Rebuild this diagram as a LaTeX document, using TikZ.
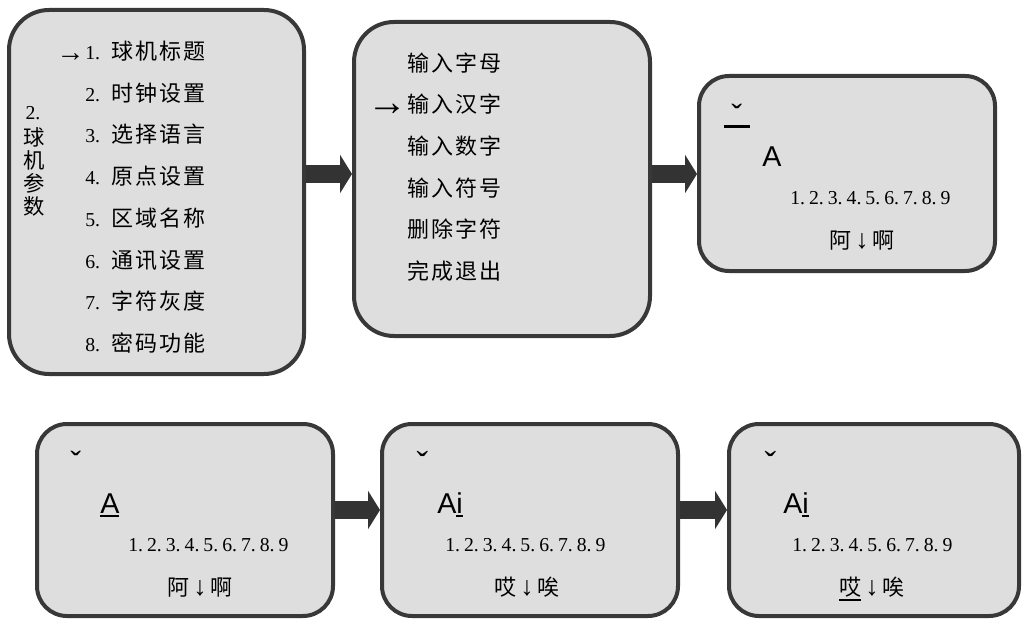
\documentclass[tikz,border=0pt]{standalone}
\usepackage{fontspec}
\setmainfont{Liberation Serif}
\newfontfamily\cjk[LetterSpace=10]{Noto Sans CJK SC}
\newfontfamily\cjkn{Noto Sans CJK SC}
\newfontfamily\lsans{Liberation Sans}
\usetikzlibrary{arrows.meta}
\definecolor{boxfill}{HTML}{DEDEDE}
\definecolor{boxline}{HTML}{383838}
\definecolor{arrowc}{HTML}{333333}
\newcommand\dgt{\fontsize{14.8pt}{16pt}\selectfont}
\newcommand\myul[3]{\leavevmode\setbox0=\hbox{#3}\rlap{\rule[#1]{\wd0}{#2}}\box0}
\newcommand\numrow{1.\hspace{3pt}2.\hspace{3pt}3.\hspace{3pt}4.\hspace{3pt}5.\hspace{3pt}6.\hspace{3pt}7.\hspace{3pt}8.\hspace{3pt}9}
\newcommand\darr{\hspace{3pt}{\rmfamily\fontsize{20pt}{20pt}\selectfont\raisebox{-0.5pt}{↓}}\hspace{3pt}}
\begin{document}
\begin{tikzpicture}[x=0.75pt,y=-0.75pt,
  panel/.style={draw=boxline, fill=boxfill, line width=3pt, inner sep=0pt, rounded corners=22.5pt},
  bigpanel/.style={panel, rounded corners=30pt},
  sz/.style 2 args={minimum width=#1*0.75pt, minimum height=#2*0.75pt},
  blockarrow/.style={draw=arrowc, line width=13.5pt, -{Triangle[length=9pt,width=28.5pt]}},
  menu/.style={anchor=base west, inner sep=0pt, font=\fontsize{16.5pt}{20pt}\selectfont},
  lbl/.style={anchor=center, inner sep=0pt, font=\fontsize{16pt}{20pt}\selectfont\cjkn},
  bigtxt/.style={anchor=base west, inner sep=0pt, font=\fontsize{21.5pt}{24pt}\selectfont\lsans},
  nums/.style={anchor=base west, inner sep=0pt, font=\dgt},
  hz/.style={anchor=base west, inner sep=0pt, font=\fontsize{16.5pt}{20pt}\selectfont\cjkn},
  tone/.style={anchor=north, inner sep=0pt, font=\fontsize{24pt}{28pt}\selectfont\lsans},
  toneb/.style={anchor=north, inner sep=0pt, font=\fontsize{26pt}{28pt}\selectfont\rmfamily},
]
\useasboundingbox (0,0) rectangle (1023,620);
\clip (0,0) rectangle (1023,620);

% panels
\node[bigpanel, sz={295}{364}] (b1) at (156.5,192) {};
\node[bigpanel, sz={296}{314}] (b2) at (502,179) {};
\node[panel, sz={296}{195}] (b3) at (847,173.5) {};
\node[panel, sz={296}{192}] (b4) at (185,520) {};
\node[panel, sz={296}{192}] (b5) at (530,520) {};
\node[panel, sz={290}{192}] (b6) at (874,520) {};

% arrows
\coordinate (ya) at (0,174);
\coordinate (yb) at (0,510);
\draw[blockarrow] (b1.east |- ya) -- (b2.west |- ya);
\draw[blockarrow] (b2.east |- ya) -- (b3.west |- ya);
\draw[blockarrow] (b4.east |- yb) -- (b5.west |- yb);
\draw[blockarrow] (b5.east |- yb) -- (b6.west |- yb);

% panel 1
\node[lbl, font=\dgt] (v0) at (33,113) {2.};
\node[lbl] (v1) at (34,137) {球};
\node[lbl] (v2) at (34,160) {机};
\node[lbl] (v3) at (34,183) {参};
\node[lbl] (v4) at (34,206) {数};
\node[menu] (m1) at (85,59.7) {\llap{{\fontsize{21pt}{21pt}\selectfont\raisebox{-1pt}{→}}\hspace{0.5pt}}{\dgt 1.} \hspace{3pt}{\cjk 球机标题}};
\node[menu] (m2) at (85,101.3) {{\dgt 2.} \hspace{3pt}{\cjk 时钟设置}};
\node[menu] (m3) at (85,143) {{\dgt 3.} \hspace{3pt}{\cjk 选择语言}};
\node[menu] (m4) at (85,184.7) {{\dgt 4.} \hspace{3pt}{\cjk 原点设置}};
\node[menu] (m5) at (85,226.3) {{\dgt 5.} \hspace{3pt}{\cjk 区域名称}};
\node[menu] (m6) at (85,268) {{\dgt 6.} \hspace{3pt}{\cjk 通讯设置}};
\node[menu] (m7) at (85,309.7) {{\dgt 7.} \hspace{3pt}{\cjk 字符灰度}};
\node[menu] (m8) at (85,351.3) {{\dgt 8.} \hspace{3pt}{\cjk 密码功能}};

% panel 2
\node[menu] (n1) at (407,71.3) {\cjk 输入字母};
\node[menu] (n2) at (407,113) {\llap{\fontsize{30pt}{30pt}\selectfont\raisebox{-2pt}{→}}\cjk 输入汉字};
\node[menu] (n3) at (407,154.7) {\cjk 输入数字};
\node[menu] (n4) at (407,196.3) {\cjk 输入符号};
\node[menu] (n5) at (407,238) {\cjk 删除字符};
\node[menu] (n6) at (407,279.7) {\cjk 完成退出};

% panel 3
\node[tone] (t3) at (737,104) {ˇ};
\draw[line width=1.9pt] (724,126.3) -- (750,126.3);
\node[bigtxt] (a3) at (762,166.7) {A};
\node[nums] (d3) at (790,204.7) {\numrow};
\node[hz] (h3) at (829,248) {阿\darr 啊};

% panel 4
\node[tone] (t4) at (76,451) {ˇ};
\node[bigtxt] (a4) at (100,513.5) {\myul{-2.9pt}{1.8pt}{A}};
\node[nums] (d4) at (128,551.7) {\numrow};
\node[hz] (h4) at (167,595) {阿\darr 啊};

% panel 5
\node[toneb] (t5) at (422.5,451) {ˇ};
\node[bigtxt] (a5) at (437,513.5) {A\myul{-2.9pt}{1.8pt}{i}};
\node[nums] (d5) at (445,551.7) {\numrow};
\node[hz] (h5) at (494,595) {哎\darr 唉};

% panel 6
\node[toneb] (t6) at (770.5,451) {ˇ};
\node[bigtxt] (a6) at (783,513.5) {A\myul{-2.9pt}{1.8pt}{i}};
\node[nums] (d6) at (792,551.7) {\numrow};
\node[hz] (h6) at (839,595) {\myul{-4.3pt}{1.5pt}{哎}\darr 唉};
\end{tikzpicture}
\end{document}
